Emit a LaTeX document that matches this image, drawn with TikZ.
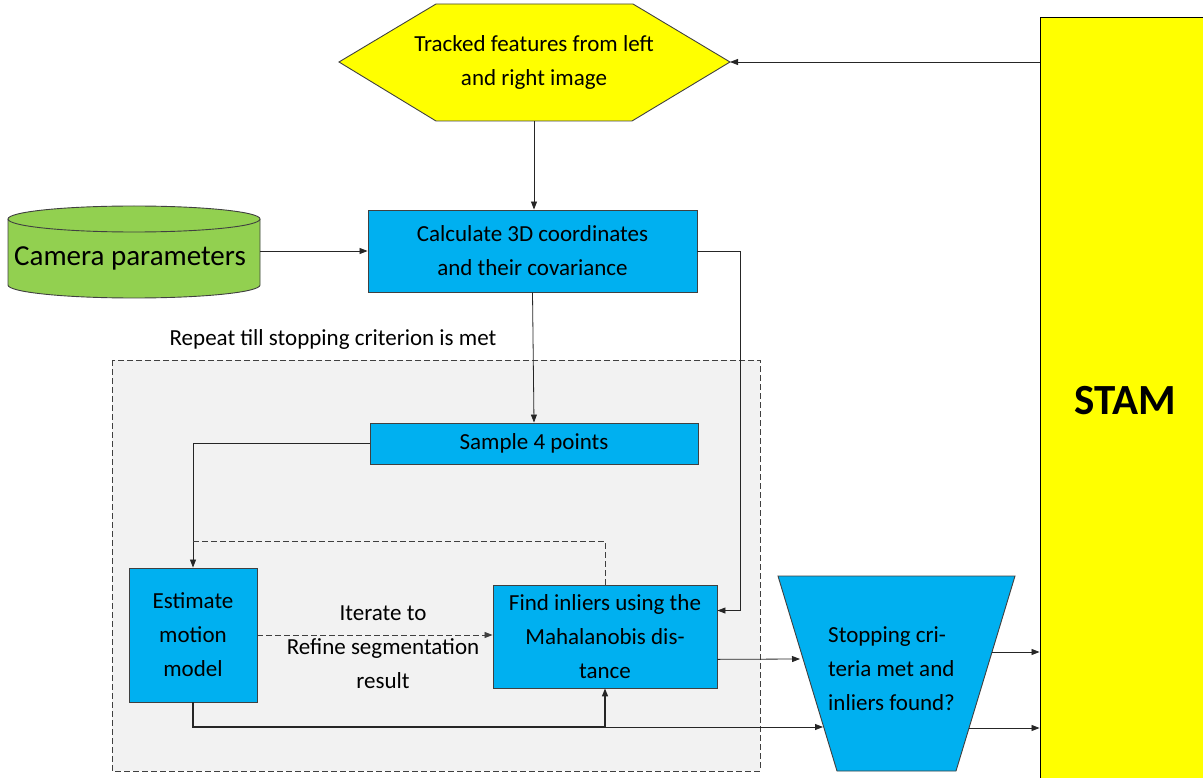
\documentclass[tikz,border=0pt]{standalone}
\usepackage{fontspec}
\setmainfont{Carlito}
\usetikzlibrary{arrows.meta,calc}
\definecolor{boxblue}{HTML}{00B0F0}
\definecolor{hexyellow}{HTML}{FFFF00}
\definecolor{camgreen}{HTML}{92D050}
\definecolor{loopgray}{HTML}{F2F2F2}
\definecolor{edgegray}{HTML}{404040}
\begin{document}
\begin{tikzpicture}[x=1pt,y=-1pt,
  proc/.style={draw=edgegray, fill=boxblue, line width=0.9pt, inner sep=0pt,
    font=\fontsize{23}{34}\selectfont, align=center},
  txt/.style={font=\fontsize{23}{34}\selectfont, align=center, inner sep=0pt},
  link/.style={draw=black!85, line width=0.8pt, -{Triangle[length=8pt,width=6pt]}},
  dashlink/.style={draw=black!75, line width=0.8pt, dash pattern=on 6pt off 3pt}]
\useasboundingbox (0,0) rectangle (1203,778);
\clip (0,0) rectangle (1203,778);

% loop region
\draw[fill=loopgray, draw=black!75, line width=0.8pt, dash pattern=on 6pt off 3pt]
  (112,360) rectangle (760,771);
\node[txt] (repeat) at (333,339) {Repeat till stopping criterion is met};

% STAM block
\node[draw=black, fill=hexyellow, line width=0.9pt, minimum width=170pt, minimum height=768pt,
  font=\fontsize{43}{43}\selectfont\bfseries] (stam) at (1125,401) {STAM};

% input hexagon
\coordinate (hexL) at (339,62);
\coordinate (hexR) at (730,62);
\coordinate (hexB) at (534,121);
\draw[fill=hexyellow, draw=edgegray, line width=0.9pt]
  (hexL) -- (436,4) -- (633,4) -- (hexR) -- (632,121) -- (436,121) -- cycle;
\node[txt] (tracked) at (534,62) {Tracked features from left\\and right image};

% camera parameters cylinder
\draw[fill=camgreen, draw=edgegray, line width=0.9pt]
  (8,219) -- (8,285) arc[start angle=180, end angle=360, x radius=126pt, y radius=13pt]
  -- (260,219) arc[start angle=0, end angle=180, x radius=126pt, y radius=13pt] -- cycle;
\draw[draw=edgegray, line width=0.9pt] (8,219) arc[start angle=180, end angle=360, x radius=126pt, y radius=13pt];
\node[txt, font=\fontsize{29}{29}\selectfont] (cam) at (130,258) {Camera parameters};
\coordinate (camR) at (260,251);

% processing boxes
\node[proc, minimum width=329pt, minimum height=82pt] (calc) at (532.5,251)
  {Calculate 3D coordinates\\and their covariance};
\node[proc, minimum width=328pt, minimum height=41pt] (sample) at (534,443.5) {Sample 4 points};
\node[proc, minimum width=128pt, minimum height=134pt] (est) at (193,635)
  {Estimate\\motion\\model};
\node[proc, minimum width=224pt, minimum height=103pt] (find) at (605,636.5)
  {Find inliers using the\\Mahalanobis dis-\\tance};

\node[txt] (iter) at (383,613) {Iterate to};
\node[txt] (refine) at (383,664) {Refine segmentation\\result};

% decision trapezoid
\coordinate (trTL) at (778,576);
\coordinate (trTR) at (1015,576);
\coordinate (trBR) at (956,771);
\coordinate (trBL) at (837,771);
\draw[fill=boxblue, draw=edgegray, line width=0.9pt] (trTL) -- (trTR) -- (trBR) -- (trBL) -- cycle;
\node[txt, align=left, anchor=west] (stop) at (828,669)
  {Stopping cri-\\teria met and\\inliers found?};
\coordinate (trInA) at (800,659);
\coordinate (trInB) at (823,727);
\coordinate (trOutA) at (992,652);
\coordinate (trOutB) at (969,728);

% helper points
\coordinate (calcSide) at (740,251);
\coordinate (loopTop) at (193,541);
\coordinate (junc) at (605,727);

% connectors
\draw[link] (stam.west |- hexR) -- (hexR);
\draw[link] (hexB) -- (hexB |- calc.north);
\draw[link] (camR) -- (camR -| calc.west);
\draw[link] (calc.south) -- (sample.north);
\draw[link] (calc.east) -- (calcSide) |- ($(find.north east)!0.25!(find.south east)$);
\draw[link] (sample.west) -| (est.north);
\draw[dashlink] (find.north) |- (loopTop);
\draw[dashlink, -{Triangle[length=8pt,width=6pt]}] (est.east) -- (est.east -| find.west);
\draw[link, line width=1.4pt] (est.south) |- (junc) -- (find.south);
\draw[link] (junc) -- (trInB);
\draw[link] ($(find.north east)!0.72!(find.south east)$) -- (trInA);
\draw[link] (trOutA) -- (trOutA -| stam.west);
\draw[link] (trOutB) -- (trOutB -| stam.west);
\end{tikzpicture}
\end{document}
